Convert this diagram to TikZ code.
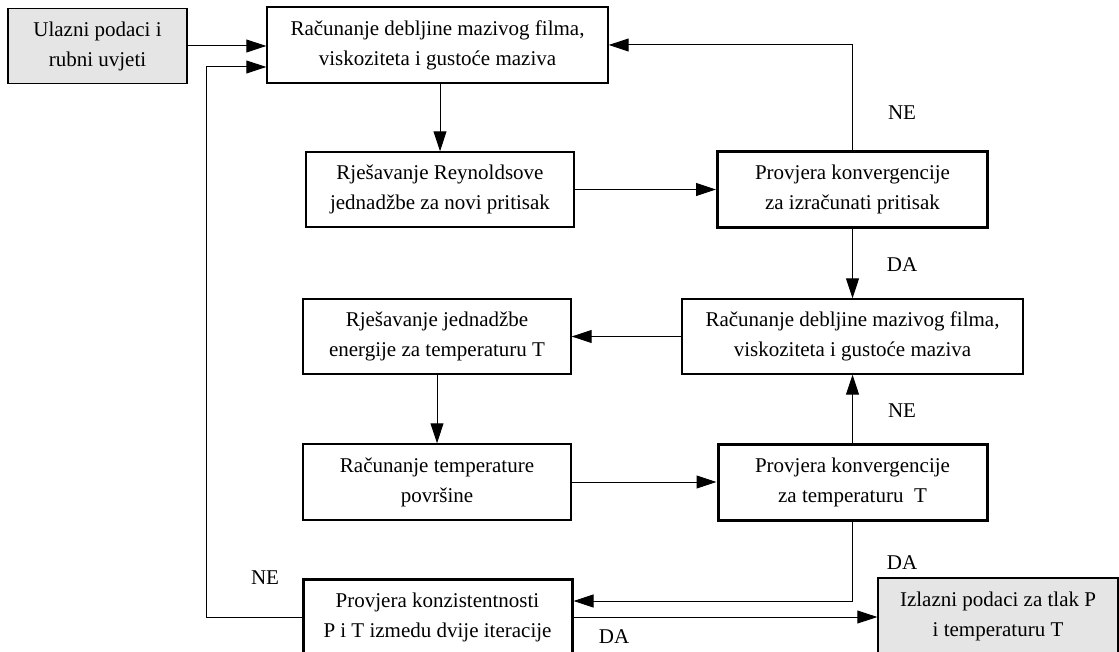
\documentclass[tikz,border=0pt]{standalone}
\usepackage{fontspec}
\setmainfont{Liberation Serif}
\usetikzlibrary{arrows.meta}

\tikzset{
  box/.style={draw,line width=1.4pt,align=center,inner sep=0pt,font=\fontsize{21}{30}\selectfont},
  thickbox/.style={box,line width=3pt},
  iobox/.style={box,fill=black!10},
  arr/.style={line width=1pt,-{Triangle[length=20pt,width=13pt]}},
  lbl/.style={font=\fontsize{21}{24}\selectfont}
}

\begin{document}
\begin{tikzpicture}[x=1pt,y=-1pt]
\useasboundingbox (0,0) rectangle (1119,652);
\node[iobox,minimum width=179pt,minimum height=75pt] (in) at (97.5,46) {Ulazni podaci i\\rubni uvjeti};
\node[box,minimum width=341pt,minimum height=76pt] (calc1) at (437.5,45) {Računanje debljine mazivog filma,\\viskoziteta i gustoće maziva};
\node[box,minimum width=268pt,minimum height=75pt] (reyn) at (440,189.5) {Rješavanje Reynoldsove\\jednadžbe za novi pritisak};
\node[thickbox,minimum width=270pt,minimum height=76pt] (convp) at (852.5,189.5) {Provjera konvergencije\\za izračunati pritisak};
\node[box,minimum width=341pt,minimum height=75pt] (calc2) at (852.5,336.5) {Računanje debljine mazivog filma,\\viskoziteta i gustoće maziva};
\node[box,minimum width=268pt,minimum height=75pt] (energ) at (437,336.5) {Rješavanje jednadžbe\\energije za temperaturu T};
\node[box,minimum width=268pt,minimum height=76pt] (tsurf) at (437,482) {Računanje temperature\\površine};
\node[thickbox,minimum width=269pt,minimum height=76pt] (convt) at (852.5,482.5) {Provjera konvergencije\\za temperaturu\ \ T};
\node[thickbox,minimum width=269pt,minimum height=76pt] (consist) at (437.5,617) {Provjera konzistentnosti\\P i T izmedu dvije iteracije};
\node[iobox,minimum width=240pt,minimum height=76pt] (out) at (998,616) {Izlazni podaci za tlak P\\i temperaturu T};

\coordinate (back) at (206,67);

\draw[arr] (in.east) -- (in.east -| calc1.west);
\draw[arr] (calc1.south -| reyn.north) -- (reyn.north);
\draw[arr] (reyn.east) -- (reyn.east -| convp.west);
\draw[arr] (convp.north) |- (calc1.east);
\draw[arr] (convp.south) -- (calc2.north);
\draw[arr] (calc2.west) -- (calc2.west -| energ.east);
\draw[arr] (energ.south) -- (tsurf.north);
\draw[arr] (tsurf.east) -- (tsurf.east -| convt.west);
\draw[arr] (convt.north) -- (calc2.south);
\draw[arr] (convt.south) |- ([yshift=16pt]consist.east);
\draw[arr] (consist.east) -- (consist.east -| out.west);
\draw[arr] (consist.west) -| (back) -- (back -| calc1.west);

\node[lbl] (ne1) at (902,113) {NE};
\node[lbl] (da1) at (902,265) {DA};
\node[lbl] (ne2) at (902,411) {NE};
\node[lbl] (da2) at (902,563) {DA};
\node[lbl] (da3) at (614,637) {DA};
\node[lbl] (ne3) at (265,578) {NE};
\end{tikzpicture}
\end{document}
